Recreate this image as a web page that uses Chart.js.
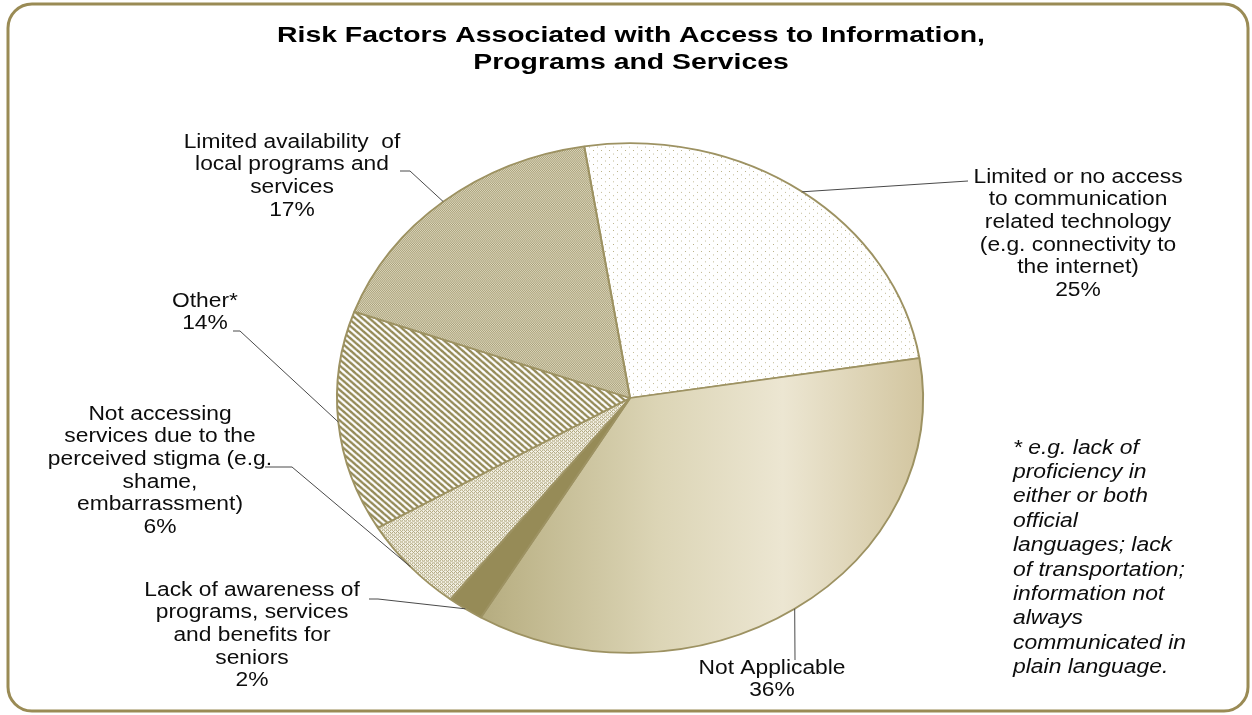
<!DOCTYPE html>
<html>
<head>
<meta charset="utf-8">
<script src="https://cdn.jsdelivr.net/npm/chart.js@4.4.1/dist/chart.umd.min.js"></script>
<style>
  html, body { margin: 0; background: #fff; }
  #wrap { width: 1252px; height: 715px; }
</style>
</head>
<body>
<div id="wrap"><canvas id="pie" width="1252" height="715"></canvas></div>
<script>
// data
const categories = [
  'Limited or no access to communication related technology (e.g. connectivity to the internet)',
  'Not Applicable',
  'Lack of awareness of programs, services and benefits for seniors',
  'Not accessing services due to the perceived stigma (e.g. shame, embarrassment)',
  'Other*',
  'Limited availability of local programs and services'
];
const shares = [25, 36, 2, 6, 14, 17];
const labelLines = [
  ['Limited or no access', 'to communication', 'related technology', '(e.g. connectivity to', 'the internet)', '25%'],
  ['Not Applicable', '36%'],
  ['Lack of awareness of', 'programs, services', 'and benefits for', 'seniors', '2%'],
  ['Not accessing', 'services due to the', 'perceived stigma (e.g.', 'shame,', 'embarrassment)', '6%'],
  ['Other*', '14%'],
  ['Limited availability  of', 'local programs and', 'services', '17%']
];
const titleLines = ['Risk Factors Associated with Access to Information,', 'Programs and Services'];
const footnoteLines = ['* e.g. lack of', 'proficiency in', 'either or both', 'official', 'languages; lack',
  'of transportation;', 'information not', 'always', 'communicated in', 'plain language.'];

// label placement (centre x, first line y, leader bend points)
const labelPlaces = [
  { x: 1078, y: 177, leader: [[968, 181]] },
  { x: 772, y: 668, leader: [[795, 660]] },
  { x: 252, y: 590, leader: [[378, 599], [369, 599]] },
  { x: 160, y: 414, leader: [[292, 467], [265, 467]] },
  { x: 205, y: 301, leader: [[240, 331], [233, 331]] },
  { x: 292, y: 142, leader: [[410, 171], [400, 171]] }
];

const ySquash = 254 / 292;
const olive = '#9d9262';

function tile(w, h, paint) {
  const c = document.createElement('canvas');
  c.width = w; c.height = h;
  paint(c.getContext('2d'));
  return c.getContext('2d').createPattern(c, 'repeat');
}

const sparseDots = tile(8, 8, g => {
  g.fillStyle = '#fff'; g.fillRect(0, 0, 8, 8);
  g.fillStyle = '#b8af85';
  g.fillRect(1, 1, 1, 1); g.fillRect(5, 5, 1, 1);
});
const fineChecker = tile(2, 2, g => {
  g.fillStyle = '#dcd7c1'; g.fillRect(0, 0, 2, 2);
  g.fillStyle = '#aaa176'; g.fillRect(0, 0, 1, 1); g.fillRect(1, 1, 1, 1);
});
const meshDots = tile(4, 4, g => {
  g.fillStyle = '#f4f1e6'; g.fillRect(0, 0, 4, 4);
  g.fillStyle = '#aea57a';
  for (let x = 0; x < 4; x++) for (let y = 0; y < 4; y++) {
    if ((x + y) % 2 === 0 && !(x === 1 && y === 1) && !(x === 3 && y === 3)) g.fillRect(x, y, 1, 1);
  }
});
const stripes = tile(7, 7, g => {
  g.fillStyle = '#fff'; g.fillRect(0, 0, 7, 7);
  g.strokeStyle = '#958b58'; g.lineWidth = 2.6;
  for (let k = -7; k <= 7; k += 7) {
    g.beginPath(); g.moveTo(k - 1, -1); g.lineTo(k + 8, 8); g.stroke();
  }
});

let naGradient = null;
function sliceFill(c) {
  const i = c.dataIndex;
  if (i === 1) {
    const area = c.chart.chartArea;
    if (!area) return '#d6cfb0';
    if (!naGradient) {
      naGradient = c.chart.ctx.createLinearGradient(area.left, 0, area.right, 0);
      naGradient.addColorStop(0, '#8f8653');
      naGradient.addColorStop(0.3, '#bdb489');
      naGradient.addColorStop(0.55, '#dcd5b6');
      naGradient.addColorStop(0.76, '#ece6d2');
      naGradient.addColorStop(1, '#d2c59f');
    }
    return naGradient;
  }
  return [sparseDots, null, '#968b57', meshDots, stripes, fineChecker][i];
}

function stretched(ctx, s, x, y, sx, align) {
  ctx.save();
  ctx.translate(x, y);
  ctx.scale(sx, 1);
  ctx.textAlign = align;
  ctx.fillText(s, 0, 0);
  ctx.restore();
}

// the original pie is an ellipse: squash the arcs vertically
const squash = {
  id: 'squash',
  beforeDatasetsDraw(chart) {
    const a = chart.getDatasetMeta(0).data[0];
    const ctx = chart.ctx;
    ctx.save();
    ctx.translate(a.x, a.y);
    ctx.scale(1, ySquash);
    ctx.translate(-a.x, -a.y);
  },
  afterDatasetsDraw(chart) {
    chart.ctx.restore();
  }
};

const decor = {
  id: 'decor',
  beforeDraw(chart) {
    const ctx = chart.ctx;
    ctx.save();
    ctx.fillStyle = '#fff';
    ctx.fillRect(0, 0, chart.width, chart.height);
    ctx.strokeStyle = '#9a8b55';
    ctx.lineWidth = 3;
    ctx.beginPath();
    ctx.roundRect(8, 4, 1240, 707, 24);
    ctx.stroke();
    ctx.restore();
  },
  afterDraw(chart) {
    const ctx = chart.ctx;
    const meta = chart.getDatasetMeta(0);
    ctx.save();
    ctx.textBaseline = 'middle';

    // title
    ctx.fillStyle = '#000';
    ctx.font = 'bold 22px "Liberation Sans", Arial, sans-serif';
    const sxTitle = 708 / ctx.measureText(titleLines[0]).width;
    titleLines.forEach((t, k) => stretched(ctx, t, 631, 36 + k * 27, sxTitle, 'center'));

    // leader lines
    ctx.strokeStyle = '#4a4a4a';
    ctx.lineWidth = 1;
    meta.data.forEach((a, i) => {
      const mid = (a.startAngle + a.endAngle) / 2;
      ctx.beginPath();
      ctx.moveTo(a.x + Math.cos(mid) * a.outerRadius, a.y + Math.sin(mid) * a.outerRadius * ySquash);
      labelPlaces[i].leader.forEach(p => ctx.lineTo(p[0], p[1]));
      ctx.stroke();
    });

    // slice labels
    ctx.fillStyle = '#0d0d0d';
    ctx.font = '20px "Liberation Sans", Arial, sans-serif';
    const sxLabel = 147 / ctx.measureText('Not Applicable').width;
    labelLines.forEach((lines, i) => {
      const p = labelPlaces[i];
      lines.forEach((t, k) => stretched(ctx, t, p.x, p.y + k * 22.7, sxLabel, 'center'));
    });

    // footnote
    ctx.font = 'italic 20px "Liberation Sans", Arial, sans-serif';
    const sxNote = 173 / ctx.measureText('communicated in').width;
    footnoteLines.forEach((t, k) => stretched(ctx, t, 1013, 448 + k * 24.4, sxNote, 'left'));
    ctx.restore();
  }
};

new Chart(document.getElementById('pie'), {
  type: 'pie',
  data: {
    labels: categories,
    datasets: [{
      data: shares,
      backgroundColor: sliceFill,
      borderColor: olive,
      borderWidth: 2
    }]
  },
  options: {
    responsive: false,
    animation: false,
    events: [],
    rotation: -9,
    layout: { padding: { left: 336, right: 328, top: 104, bottom: 23 } },
    plugins: {
      legend: { display: false },
      title: { display: false },
      tooltip: { enabled: false }
    }
  },
  plugins: [squash, decor]
});
</script>
</body>
</html>
